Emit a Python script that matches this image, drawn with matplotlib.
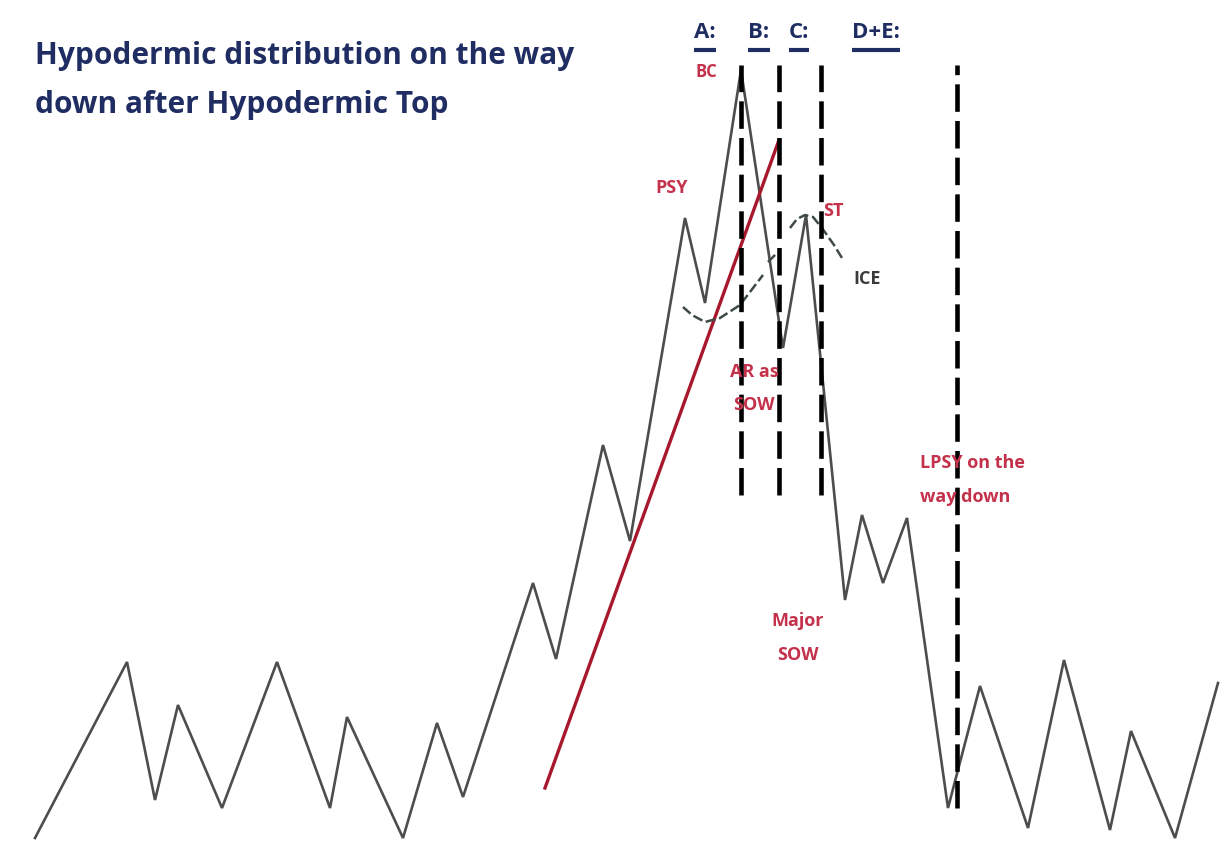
import matplotlib
matplotlib.use("Agg")
import matplotlib.pyplot as plt

W, H = 1231, 842

# ---- data (schematic price path; time index, price level) ----
time_idx = [35, 127, 155, 178, 222, 277, 330, 347, 403, 437, 463, 533, 556, 603,
            630, 685, 705, 741, 783, 806, 845, 862, 883, 907, 948, 980, 1028,
            1064, 1110, 1131, 1175, 1218]
price = [4, 180, 42, 137, 34, 180, 34, 125, 4, 119, 45, 259, 183, 397,
         301, 624, 539, 772, 494, 627, 242, 327, 259, 324, 34, 156, 14,
         182, 12, 111, 4, 159]

trend_t = [545, 779]
trend_p = [54, 702]

phase_t = [741, 779, 821]
phase_top = 777
phase_bottom = 347
lpsy_t = 957
lpsy_bottom = 34

ice_seg1_t = [683, 692, 705, 720, 740, 763]
ice_seg1_p = [535, 527, 520, 524, 537, 567]
ice_seg2_t = [768, 778]
ice_seg2_p = [580, 590]
ice_seg3_t = [790, 797, 805, 813, 822, 834, 842]
ice_seg3_p = [614, 623, 627, 625, 614, 597, 584]

phase_labels = ["A:", "B:", "C:", "D+E:"]
phase_label_x = [705, 759, 799, 876]

title_lines = ["Hypodermic distribution on the way", "down after Hypodermic Top"]

fig = plt.figure(figsize=(W / 100, H / 100), dpi=100)
ax = fig.add_axes([0, 0, 1, 1])
ax.set_xlim(0, W)
ax.set_ylim(0, H)
ax.axis("off")

gray = "#4d4d4d"
red = "#c4314b"
navy = "#1f2d62"

ax.plot(time_idx, price, color=gray, lw=1.9, solid_joinstyle="miter", zorder=3)
ax.plot(trend_t, trend_p, color="#a8182c", lw=2.4, zorder=4)

for x in phase_t:
    ax.plot([x, x], [phase_bottom, phase_top], color="black", lw=3.3,
            dashes=(6, 2), zorder=5)
ax.plot([lpsy_t, lpsy_t], [lpsy_bottom, phase_top], color="black", lw=3.3,
        dashes=(6, 2), zorder=5)

for tt, pp in [(ice_seg1_t, ice_seg1_p), (ice_seg2_t, ice_seg2_p), (ice_seg3_t, ice_seg3_p)]:
    ax.plot(tt, pp, color="#3e4a44", lw=1.8, dashes=(4, 1.5), zorder=4)

font = "Open Sans"
ax.text(35, H - 56, title_lines[0], color=navy, fontsize=21.5, fontweight="bold",
        family=font, va="center", ha="left")
ax.text(35, H - 105, title_lines[1], color=navy, fontsize=21.5, fontweight="bold",
        family=font, va="center", ha="left")

hdr = []
for lab_, x in zip(phase_labels, phase_label_x):
    hdr.append(ax.text(x, H - 32, lab_, color=navy, fontsize=16, fontweight="bold",
                       family=font, va="center", ha="center"))
fig.canvas.draw()
r = fig.canvas.get_renderer()
for tx in hdr:
    bb = tx.get_window_extent(renderer=r)
    ax.plot([bb.x0, bb.x1], [H - 50, H - 50], color=navy, lw=3.0,
            solid_capstyle="butt", zorder=5)

def lab(x, y, s, c=red, fs=13, ha="center"):
    ax.text(x, H - y, s, color=c, fontsize=fs, fontweight="bold", family=font,
            va="center", ha=ha, zorder=6)

lab(706, 72, "BC", fs=12)
lab(672, 188, "PSY")
lab(833, 211, "ST")
lab(867, 279, "ICE", c="#3a3a3a")
lab(754, 372, "AR as")
lab(754, 405, "SOW")
lab(798, 621, "Major")
lab(798, 655, "SOW")
lab(920, 463, "LPSY on the", ha="left")
lab(920, 497, "way down", ha="left")

fig.savefig("out.png", dpi=100, facecolor="white")
